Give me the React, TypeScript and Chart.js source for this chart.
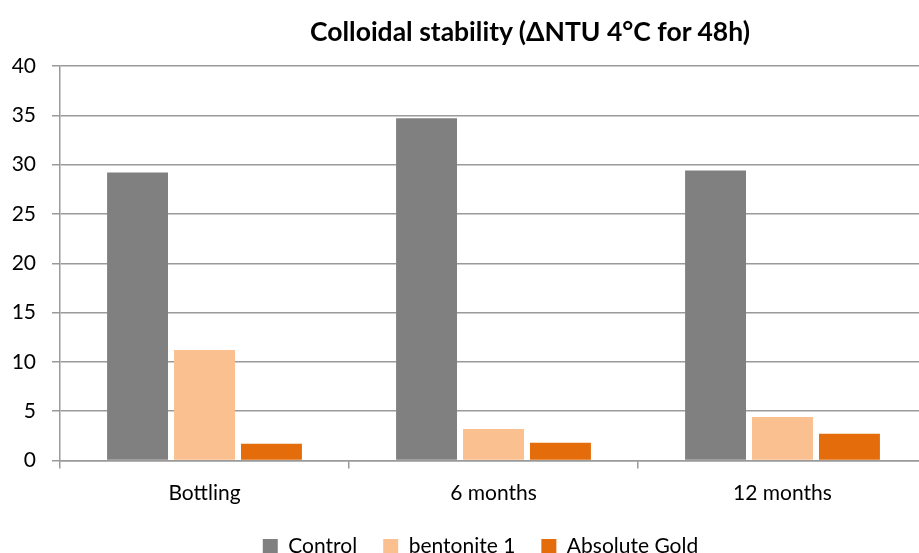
import React, { useEffect, useRef } from "react";
import { Chart, registerables } from "chart.js";

Chart.register(...registerables);

const categories = ["Bottling", "6 months", "12 months"];
const controlValues = [29.2, 34.7, 29.4];
const bentoniteValues = [11.2, 3.2, 4.4];
const goldValues = [1.7, 1.8, 2.7];
const seriesNames = ["Control", "bentonite 1", "Absolute Gold"];
const yMin = 0;
const yMax = 40;
const yStep = 5;
const titleText = "Colloidal stability (ΔNTU 4°C for 48h)";

const FONT = "Lato, 'Open Sans', sans-serif";
const GRID = "#9a9a9a";

const shiftLegend = {
  id: "shiftLegend",
  afterLayout(chart: any) {
    const lg = chart.legend;
    if (lg) {
      lg.left += 17;
      lg.right += 17;
    }
  },
};

export default function App() {
  const ref = useRef<HTMLCanvasElement | null>(null);

  useEffect(() => {
    if (!ref.current) return;
    const chart = new Chart(ref.current, {
      type: "bar",
      data: {
        labels: categories,
        datasets: [
          { label: seriesNames[0], data: controlValues, backgroundColor: "#808080" },
          { label: seriesNames[1], data: bentoniteValues, backgroundColor: "#FAC090" },
          { label: seriesNames[2], data: goldValues, backgroundColor: "#E46C0A" },
        ],
      },
      options: {
        responsive: false,
        animation: false,
        layout: { padding: { top: 66, right: 33, left: 0, bottom: -14 } },
        datasets: { bar: { categoryPercentage: 0.695, barPercentage: 0.91 } },
        scales: {
          x: {
            grid: { display: true, drawOnChartArea: false, drawTicks: true, tickLength: 8, color: GRID, lineWidth: 1.5, offset: true },
            border: { display: true, color: GRID, width: 1.5 },
            ticks: { color: "#000", font: { family: FONT, size: 21 }, padding: 12 },
            afterFit: (s: any) => { s.height = 49.5; },
          },
          y: {
            min: yMin,
            max: yMax,
            ticks: { stepSize: yStep, color: "#000", font: { family: FONT, size: 21 }, padding: 16 },
            grid: { color: GRID, lineWidth: 1.5, tickLength: 8 },
            border: { display: true, color: GRID, width: 1.5 },
            afterFit: (s: any) => { s.width = 60; },
          },
        },
        plugins: {
          title: { display: false },
          tooltip: { enabled: false },
          legend: {
            position: "bottom",
            labels: {
              color: "#000",
              font: { family: FONT, size: 21 },
              boxWidth: 15,
              boxHeight: 15,
              padding: 26,
            },
          },
        },
      },
      plugins: [shiftLegend],
    });
    return () => chart.destroy();
  }, []);

  return (
    <div style={{ position: "absolute", left: 0, top: 0, width: 919, height: 553, overflow: "hidden", background: "#fff" }}>
      <div style={{ position: "relative", width: 960, height: 553 }}>
        <canvas ref={ref} width={960} height={553} style={{ display: "block" }} />
        <div
          style={{
            position: "absolute",
            left: 0,
            top: 15,
            width: 1060,
            textAlign: "center",
            fontFamily: FONT,
            fontWeight: 700,
            fontSize: 26.5,
            color: "#000",
          }}
        >
          {titleText}
        </div>
      </div>
    </div>
  );
}
